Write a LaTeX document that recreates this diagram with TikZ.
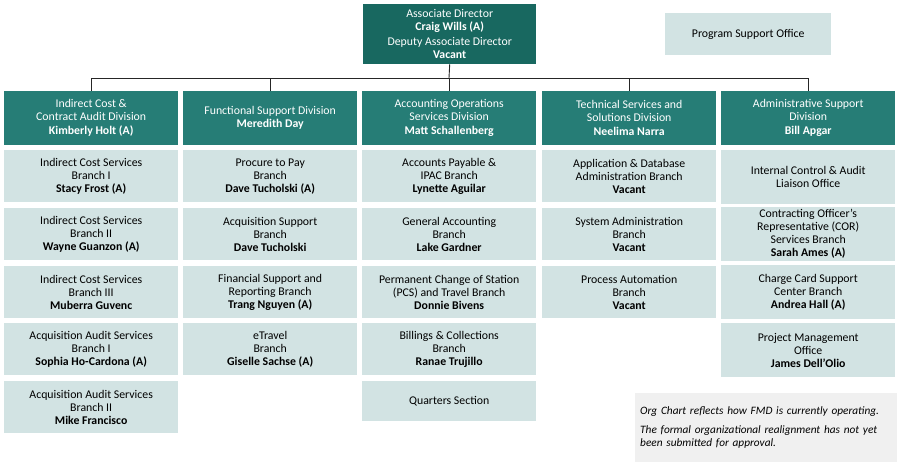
\documentclass[tikz,border=0pt]{standalone}
\usepackage{fontspec}
\setmainfont{Carlito}
\usetikzlibrary{positioning}
\definecolor{topteal}{RGB}{24,104,96}
\definecolor{divteal}{RGB}{38,125,118}
\definecolor{branchfill}{RGB}{210,227,227}
\definecolor{notefill}{RGB}{240,240,240}
\begin{document}
\begin{tikzpicture}[x=1pt,y=-1pt,
  every node/.style={font=\fontsize{11.8}{13}\selectfont, align=center, inner sep=0pt},
  head/.style={fill=topteal, text=white, minimum width=173pt, minimum height=60pt, anchor=north west},
  division/.style={fill=divteal, text=white, minimum width=174pt, minimum height=54pt, anchor=north west},
  branch/.style={fill=branchfill, minimum width=174pt, minimum height=52pt, anchor=north west},
  link/.style={draw=black!85, line width=0.9pt}]
\useasboundingbox (0,0) rectangle (900,467);

% top
\node[head] (ad) at (363,4) {Associate Director\\\textbf{Craig Wills (A)}\\[2pt]Deputy Associate Director\\\textbf{Vacant}};
\node[branch, minimum width=166pt, minimum height=42pt] (pso) at (665,13) {Program Support Office};

% divisions
\node[division] (icd) at (4,91) {Indirect Cost \&\\Contract Audit Division\\[1pt]\textbf{Kimberly Holt (A)}};
\node[division] (fsd) at (183,91) {Functional Support Division\\\textbf{Meredith Day}};
\node[division] (aos) at (362,91) {Accounting Operations\\Services Division\\[1pt]\textbf{Matt Schallenberg}};
\node[division] (tss) at (542,91) {Technical Services and\\Solutions Division\\[1pt]\textbf{Neelima Narra}};
\node[division] (asd) at (721,91) {Administrative Support\\Division\\[1pt]\textbf{Bill Apgar}};

% connectors
\coordinate (bus) at (449,78);
\draw[link] (ad.south) -- (bus);
\draw[link] (icd.north |- bus) -- (asd.north |- bus);
\foreach \d in {icd,fsd,aos,tss,asd}
  \draw[link] (\d.north |- bus) -- (\d.north);

% branches, column 1
\node[branch] (ic1) at (4,150) {Indirect Cost Services\\Branch I\\\textbf{Stacy Frost (A)}};
\node[branch] (ic2) at (4,208) {Indirect Cost Services\\Branch II\\\textbf{Wayne Guanzon (A)}};
\node[branch] (ic3) at (4,266) {Indirect Cost Services\\Branch III\\\textbf{Muberra Guvenc}};
\node[branch] (aa1) at (4,323) {Acquisition Audit Services\\Branch I\\\textbf{Sophia Ho-Cardona (A)}};
\node[branch] (aa2) at (4,381) {Acquisition Audit Services\\Branch II\\\textbf{Mike Francisco}};

% column 2
\node[branch] (ptp) at (183,150) {Procure to Pay\\Branch\\\textbf{Dave Tucholski (A)}};
\node[branch] (acq) at (183,208) {Acquisition Support\\Branch\\\textbf{Dave Tucholski}};
\node[branch] (fsr) at (183,266) {Financial Support and\\Reporting Branch\\\textbf{Trang Nguyen (A)}};
\node[branch] (etr) at (183,323) {eTravel\\Branch\\\textbf{Giselle Sachse (A)}};

% column 3
\node[branch] (apb) at (362,150) {Accounts Payable \&\\IPAC Branch\\\textbf{Lynette Aguilar}};
\node[branch] (gab) at (362,208) {General Accounting\\Branch\\\textbf{Lake Gardner}};
\node[branch] (pcs) at (362,266) {Permanent Change of Station\\(PCS) and Travel Branch\\\textbf{Donnie Bivens}};
\node[branch] (bcb) at (362,323) {Billings \& Collections\\Branch\\\textbf{Ranae Trujillo}};
\node[branch, minimum height=40pt] (qts) at (362,381) {Quarters Section};

% column 4
\node[branch] (ada) at (542,150) {Application \& Database\\Administration Branch\\\textbf{Vacant}};
\node[branch] (sab) at (542,208) {System Administration\\Branch\\\textbf{Vacant}};
\node[branch] (pab) at (542,266) {Process Automation\\Branch\\\textbf{Vacant}};

% column 5
\node[branch, minimum height=54pt] (ica) at (721,150) {Internal Control \& Audit\\Liaison Office};
\node[branch, minimum height=54pt] (cor) at (721,207) {Contracting Officer’s\\Representative (COR)\\Services Branch\\\textbf{Sarah Ames (A)}};
\node[branch, minimum height=54pt] (ccb) at (721,265) {Charge Card Support\\Center Branch\\\textbf{Andrea Hall (A)}};
\node[branch, minimum height=54pt] (pmo) at (721,323) {Project Management\\Office\\\textbf{James Dell’Olio}};

% note
\node[fill=notefill, minimum width=262pt, minimum height=69pt, anchor=north west, align=left, text width=252pt, inner xsep=5pt, font=\fontsize{11.3}{13}\selectfont\itshape] (note) at (635,393)
  {Org Chart reflects how FMD is currently operating.\\[6pt]The formal organizational realignment has not yet\\been submitted for approval.};
\end{tikzpicture}
\end{document}
